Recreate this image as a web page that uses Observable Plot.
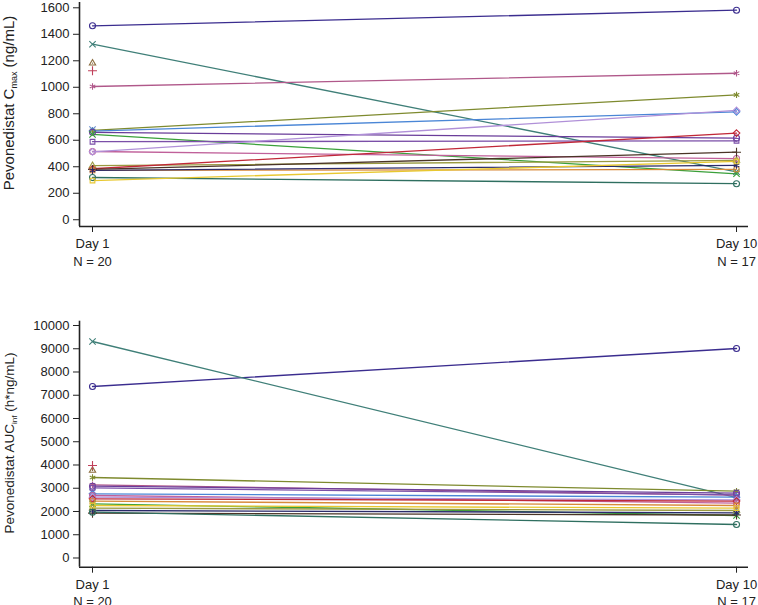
<!DOCTYPE html>
<html><head><meta charset="utf-8">
<script src="https://cdn.jsdelivr.net/npm/d3@7"></script>
<script src="https://cdn.jsdelivr.net/npm/@observablehq/plot@0.6"></script>
<style>
body{margin:0;background:#fff;font-family:"Liberation Sans",Arial,sans-serif}
#c{width:758px}
#c svg{display:block}
</style>
</head><body><div id="c"></div>
<script>
// ---- data ----
const subjects = ["S01","S02","S03","S04","S05","S06","S07","S08","S09","S10","S11","S12","S13","S14","S15","S16","S17","S18","S19","S20"];
const days = ["Day 1", "Day 10"];
const dayN = [20, 17];
const cmaxDay1  = [1464,1325,1182,1125,1006,681,674,669,660,644,589,515,513,408,385,380,372,372,319,296];
const cmaxDay10 = [1582, 362, null, null,1106,null,943,815,616,347,596,462,825,448,654,510,380,410,272,440];
const aucDay1   = [7376,9312,3763,3978,3148,2831,3462,2760,3088,2330,3018,2688,2616,2143,2545,1928,2444,2043,1971,2258];
const aucDay10  = [9010,2600,null,null,2700,null,2874,2616,2788,1828,2717,2358,2502,2043,2450,1850,2258,1943,1441,2143];
const cmaxTicks = [0,200,400,600,800,1000,1200,1400,1600];
const aucTicks  = [0,1000,2000,3000,4000,5000,6000,7000,8000,9000,10000];

// ---- styles ----
const palette = ["#3b2d8f","#3f7f78","#8c6d3f","#c0405a","#b0588a","#6a8fd0","#7e8a2e","#4a86d6","#6a3d9a","#3aa03a",
                 "#7b4fa8","#c0609a","#b090d8","#9a9a40","#c02838","#4a3426","#d88a3a","#2a2a6a","#2f6f60","#e8c830"];
const shapes  = ["circle","times","triangle2","plus","asterisk","times","asterisk","diamond2","circle","times",
                 "square2","circle","diamond2","triangle2","diamond2","plus","square2","asterisk","circle","square2"];

function longData(v1, v10) {
  const rows = [];
  subjects.forEach((s, i) => {
    if (v1[i] != null) rows.push({id: s, day: 0, value: v1[i]});
    if (v10[i] != null) rows.push({id: s, day: 1, value: v10[i]});
  });
  return rows;
}

const xDomain = [-0.0202, 1.0186];
const tickFmt = (d) => `${days[d]}\nN = ${dayN[d]}`;

function panel({v1, v10, height, marginTop, marginBottom, yDomain, yTicks, main, sub, rest, labelY, labelSize}) {
  const data = longData(v1, v10);
  const svg = Plot.plot({
    width: 758, height, marginLeft: 79, marginRight: 10, marginTop, marginBottom,
    style: {fontFamily: '"Liberation Sans", Arial, sans-serif', fontSize: "13px", color: "#222", background: "#fff"},
    x: {domain: xDomain, axis: null},
    y: {domain: yDomain, axis: null},
    color: {type: "ordinal", domain: subjects, range: palette},
    symbol: {domain: subjects, range: shapes},
    marks: [
      Plot.axisY({ticks: yTicks, tickSize: 6, tickPadding: 4, tickFormat: d => String(d), fontSize: 13, stroke: "#222", label: null}),
      Plot.axisX({ticks: [0, 1], tickSize: 6, tickPadding: 3, tickFormat: tickFmt, fontSize: 13, lineHeight: 1.35, stroke: "#222", label: null}),
      Plot.ruleY([yDomain[0]], {stroke: "#222", strokeWidth: 1.6}),
      Plot.ruleX([xDomain[0]], {stroke: "#222", strokeWidth: 1.6}),
      Plot.line(data, {x: "day", y: "value", z: "id", stroke: "id", strokeWidth: 1.3}),
      Plot.dot(data, {x: "day", y: "value", stroke: "id", symbol: "id", r: 3, strokeWidth: 1.1, fill: "none"})
    ]
  });
  const t = d3.select(svg).append("text")
    .attr("transform", `translate(13.5,${labelY}) rotate(-90)`)
    .attr("text-anchor", "middle")
    .attr("font-size", labelSize)
    .attr("fill", "#222");
  t.append("tspan").text(main);
  t.append("tspan").attr("font-size", labelSize * 0.6).attr("dy", 3).text(sub);
  t.append("tspan").attr("dy", -3).text(rest);
  return svg;
}

const c = document.getElementById("c");
c.appendChild(panel({v1: cmaxDay1, v10: cmaxDay10, height: 300, marginTop: 2, marginBottom: 74,
  yDomain: [-51, 1640], yTicks: cmaxTicks, main: "Pevonedistat C", sub: "max", rest: " (ng/mL)", labelY: 103, labelSize: 15}));
c.appendChild(panel({v1: aucDay1, v10: aucDay10, height: 305, marginTop: 20.7, marginBottom: 38.3,
  yDomain: [-396, 10185], yTicks: aucTicks, main: "Pevonedistat AUC", sub: "inf", rest: " (h*ng/mL)", labelY: 143, labelSize: 13.5}));
</script></body></html>
